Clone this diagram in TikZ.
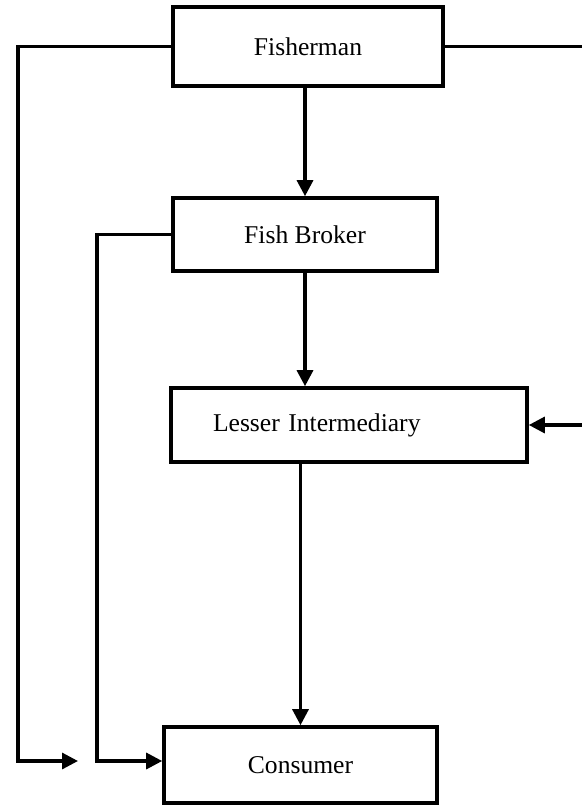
\documentclass[tikz,border=0pt]{standalone}
\usepackage{fontspec}
\setmainfont{Liberation Serif}
\usetikzlibrary{arrows.meta,positioning}

\begin{document}
\begin{tikzpicture}[
  x=0.5pt,y=-0.5pt,
  box/.style={draw, line width=1.8pt, inner sep=0pt, font=\fontsize{12.8}{15}\selectfont},
  arr/.style={-{Triangle[length=8pt,width=8pt]}, line width=1.6pt},
  ln/.style={line width=1.6pt}
]
\useasboundingbox (0,0) rectangle (582,807);
\node[box, minimum width=135pt, minimum height=39.5pt] (fisherman) at (308,46.5) {Fisherman};
\node[box, minimum width=132pt, minimum height=36.5pt] (broker) at (305,234.5) {Fish Broker};
\node[box, minimum width=178pt, minimum height=37pt, text width=136pt, inner xsep=21pt, align=left] (lesser) at (349,425) {Lesser Intermediary};
\node[box, minimum width=136.5pt, minimum height=38pt] (consumer) at (300.5,765) {Consumer};
\coordinate (rtop) at (582,46.5);
\coordinate (rin) at (582,425);
\coordinate (fturn) at (18,761);
\coordinate (fend) at (78,761);
\coordinate (bturn) at (97,761);
\draw[arr] (broker.north |- fisherman.south) -- (broker.north);
\draw[arr] (broker.south) -- (broker.south |- lesser.north);
\draw[arr] (consumer.north |- lesser.south) -- (consumer.north);
\draw[ln] (fisherman.east) -- (rtop);
\draw[arr] (rin) -- (lesser.east);
\draw[arr] (fisherman.west) -| (fturn) -- (fend);
\draw[arr] (broker.west) -| (bturn) -- (bturn -| consumer.west);
\end{tikzpicture}
\end{document}
